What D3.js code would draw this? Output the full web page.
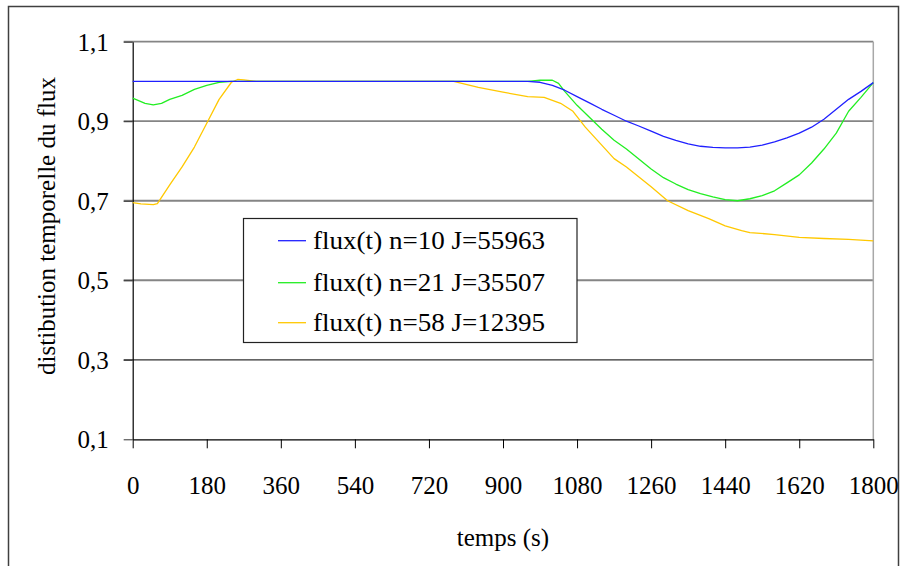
<!DOCTYPE html>
<html><head><meta charset="utf-8">
<script src="https://cdn.jsdelivr.net/npm/d3@7/dist/d3.min.js"></script>
<style>body{margin:0;background:#fff}svg{display:block}text{font-family:"Liberation Serif","Times New Roman",serif;fill:#000}</style>
</head><body><svg id="c" width="905" height="566"></svg>
<script>
const xTicks = [0,180,360,540,720,900,1080,1260,1440,1620,1800];
const yTicks = [0.1,0.3,0.5,0.7,0.9,1.1];
const seriesNames = ["flux(t) n=10 J=55963","flux(t) n=21 J=35507","flux(t) n=58 J=12395"];
const seriesColors = ["#2020ff","#22ee22","#ffc800"];
const blueT = [0,180,360,540,720,900,960,990,1020,1050,1080,1110,1140,1170,1200,1230,1260,1290,1320,1350,1380,1410,1440,1470,1500,1530,1560,1590,1620,1650,1680,1710,1740,1770,1800];
const blueV = [1.0,1.0,1.0,1.0,1.0,1.0,1.0,0.998,0.99,0.978,0.962,0.946,0.93,0.915,0.9,0.888,0.875,0.862,0.852,0.843,0.837,0.834,0.833,0.833,0.835,0.84,0.848,0.858,0.87,0.885,0.905,0.93,0.955,0.975,0.997];
const greenT = [0,30,50,70,90,120,150,180,210,240,360,540,720,900,960,990,1020,1035,1050,1080,1110,1140,1170,1200,1230,1260,1290,1320,1350,1380,1410,1440,1470,1500,1530,1560,1590,1620,1650,1680,1710,1740,1770,1800];
const greenV = [0.958,0.945,0.941,0.945,0.955,0.965,0.98,0.99,0.998,1.0,1.0,1.0,1.0,1.0,1.0,1.003,1.003,0.995,0.975,0.94,0.91,0.88,0.852,0.83,0.805,0.78,0.758,0.742,0.728,0.718,0.71,0.703,0.70,0.705,0.713,0.725,0.745,0.765,0.795,0.83,0.87,0.925,0.96,0.997];
const yellowT = [0,20,50,60,90,120,150,180,210,240,255,270,300,360,540,720,780,840,900,960,1000,1040,1070,1100,1140,1170,1200,1260,1300,1350,1400,1440,1480,1500,1560,1620,1680,1740,1800];
const yellowV = [0.695,0.692,0.69,0.693,0.74,0.785,0.835,0.895,0.955,0.998,1.005,1.004,1.0,1.0,1.0,1.0,1.0,0.985,0.973,0.962,0.96,0.945,0.925,0.885,0.84,0.806,0.785,0.735,0.7,0.675,0.655,0.637,0.625,0.62,0.615,0.608,0.605,0.603,0.599];

const svg = d3.select("#c");
const L=132.7,R=873.3,T=41.7,B=439.3;
const x = d3.scaleLinear().domain([0,1800]).range([L,R]);
const y = d3.scaleLinear().domain([0.1,1.1]).range([B,T]);

// outer frame
svg.append("path").attr("d","M8.5,570 V6.5 H898.5 V570").attr("fill","none").attr("stroke","#404040").attr("stroke-width",1.5);

// gridlines
yTicks.filter(v=>v>0.15).forEach(v=>{
  const dark = Math.abs(v-0.3)<1e-6;
  svg.append("line").attr("x1",L-9).attr("x2",R).attr("y1",y(v)).attr("y2",y(v))
    .attr("stroke",dark?"#303030":"#858585").attr("stroke-width",dark?1.2:1.8);
});
// right border
svg.append("line").attr("x1",R).attr("x2",R).attr("y1",T).attr("y2",B).attr("stroke","#a8a8a8").attr("stroke-width",1.5);

// axes
const fmt = d=>d3.format(".1f")(d).replace(".",",");
const yAxis = svg.append("g").attr("transform",`translate(${L},0)`)
  .call(d3.axisLeft(y).tickValues(yTicks).tickSize(9).tickSizeOuter(0).tickFormat(fmt));
yAxis.select(".domain").attr("stroke","#000").attr("stroke-width",1.2);
yAxis.selectAll(".tick line").attr("stroke","#333");
yAxis.selectAll("text").attr("font-size",25).attr("x",-24).attr("dy","0.34em");

const xAxis = svg.append("g").attr("transform",`translate(0,${B})`)
  .call(d3.axisBottom(x).tickValues(xTicks).tickSize(9).tickSizeOuter(0).tickFormat(d3.format("d")));
xAxis.select(".domain").attr("stroke","#000").attr("stroke-width",1.2);
xAxis.selectAll(".tick line").attr("stroke","#000");
xAxis.selectAll("text").attr("font-size",25).attr("y",46).attr("dy","0.34em");
svg.selectAll(".tick text").attr("font-family","Liberation Serif, Times New Roman, serif");

// titles
svg.append("text").attr("x",503).attr("y",537).attr("dy","0.34em").attr("text-anchor","middle").attr("font-size",25).text("temps (s)");
svg.append("text").attr("transform","translate(46,226) rotate(-90)").attr("dy","0.34em").attr("text-anchor","middle").attr("font-size",25).text("distibution temporelle du flux");

// lines
const line = d3.line().x(d=>x(d[0])).y(d=>y(d[1]));
const data = [d3.zip(blueT,blueV), d3.zip(greenT,greenV), d3.zip(yellowT,yellowV)];
[2,1,0].forEach(i=>{
  svg.append("path").datum(data[i]).attr("d",line).attr("fill","none").attr("stroke",seriesColors[i]).attr("stroke-width",1.3).attr("stroke-linejoin","round");
});

// legend
const lg = svg.append("g");
lg.append("rect").attr("x",243.5).attr("y",218.5).attr("width",333.5).attr("height",124).attr("fill","#fff").attr("stroke","#222").attr("stroke-width",1.2);
const ly = [240.7,282.7,322.7];
seriesNames.forEach((n,i)=>{
  lg.append("line").attr("x1",278).attr("x2",306).attr("y1",ly[i]).attr("y2",ly[i]).attr("stroke",seriesColors[i]).attr("stroke-width",1.3);
  lg.append("text").attr("x",313).attr("y",ly[i]).attr("dy","0.34em").attr("font-size",25).attr("textLength",232).attr("lengthAdjust","spacingAndGlyphs").text(n);
});
</script></body></html>
